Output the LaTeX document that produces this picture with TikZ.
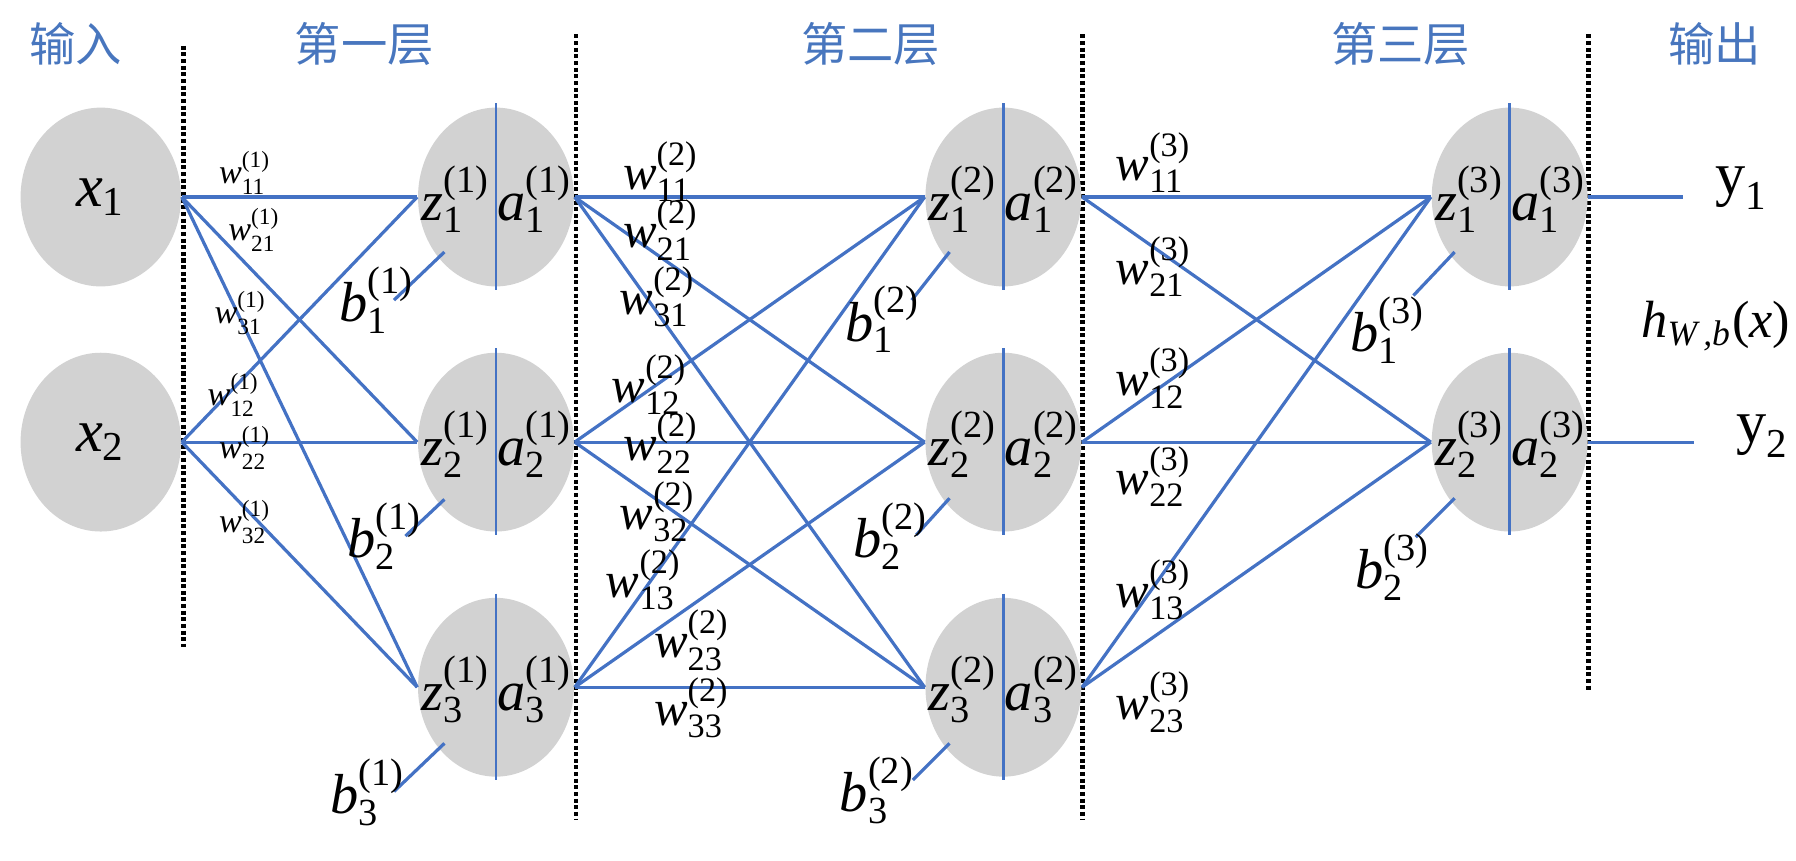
\documentclass[tikz,border=0pt]{standalone}
\usepackage{fontspec}
\setmainfont{Liberation Serif}
\newfontfamily\tnr{Liberation Serif}
\newfontfamily\cjk{Noto Sans CJK SC}
\usetikzlibrary{shapes.geometric,calc}
\definecolor{lineblue}{RGB}{68,114,196}
\definecolor{headblue}{RGB}{72,118,190}
\definecolor{cellgray}{RGB}{210,210,210}
\makeatletter
\newcommand\sss{\fontsize{\fpeval{0.68*\f@size}}{\fpeval{0.8*\f@size}}\selectfont}
\makeatother
\newcommand{\lbl}[3]{$\hbox{\tnr\itshape #1}^{\hbox{\tnr\sss(#3)}}_{\hbox{\tnr\sss #2}}$}
\begin{document}
\begin{tikzpicture}[x=0.01cm,y=-0.01cm,
 neuron/.style={ellipse, fill=cellgray, draw=none, minimum width=1.36cm, minimum height=1.56cm, inner sep=0pt},
 inputnode/.style={ellipse, fill=cellgray, draw=none, minimum width=1.40cm, minimum height=1.56cm, inner sep=0pt, font=\tnr\fontsize{15}{17}\selectfont},
 conn/.style={lineblue, line width=0.8pt},
 divider/.style={lineblue, line width=0.7pt},
 divline/.style={black, line width=1.15pt, dash pattern=on 1pt off 0.65pt},
 head/.style={headblue, font=\cjk\fontsize{11.5}{13}\selectfont, inner sep=0pt},
 nlab/.style={font=\tnr\fontsize{14}{16}\selectfont, inner sep=0pt},
 hlab/.style={font=\tnr\fontsize{13}{15}\selectfont, inner sep=0pt},
 wone/.style={font=\tnr\fontsize{8.5}{10}\selectfont, inner sep=0pt},
 wlab/.style={font=\tnr\fontsize{12.5}{14}\selectfont, inner sep=0pt},
 blab/.style={font=\tnr\fontsize{14}{16}\selectfont, inner sep=0pt},
 ylab/.style={font=\tnr\fontsize{15}{17}\selectfont, inner sep=0pt},
]
\useasboundingbox (0,0) rectangle (1568,751);

% headers
\node[head] (hin) at (66,38) {输入};
\node[head] (hl1) at (318,38) {第一层};
\node[head] (hl2) at (760,38) {第二层};
\node[head] (hl3) at (1223,38) {第三层};
\node[head] (hout) at (1497,38) {输出};

% dashed separators
\coordinate (d1t) at (160,40);  \coordinate (d1b) at (160,565);
\coordinate (d2t) at (503,30);  \coordinate (d2b) at (503,715);
\coordinate (d3t) at (945,30);  \coordinate (d3b) at (945,715);
\coordinate (d4t) at (1387,30); \coordinate (d4b) at (1387,602);
\draw[divline] (d1t) -- (d1b);
\draw[divline] (d2t) -- (d2b);
\draw[divline] (d3t) -- (d3b);
\draw[divline] (d4t) -- (d4b);

% inputs
\node[inputnode] (x1) at (88,172) {$\hbox{\tnr\itshape x}_{\hbox{\tnr\sss 1}}$};
\node[inputnode] (x2) at (88,386) {$\hbox{\tnr\itshape x}_{\hbox{\tnr\sss 2}}$};

% neurons
\foreach \L/\cx in {1/433,2/876,3/1318}{
  \foreach \r/\cy in {1/172,2/386,3/600}{
    \ifnum\L=3 \ifnum\r=3 \else
      \node[neuron] (n\L\r) at (\cx,\cy) {};
    \fi\else
      \node[neuron] (n\L\r) at (\cx,\cy) {};
    \fi
  }
}
\foreach \L/\cx in {1/433,2/876,3/1318}{
  \foreach \r/\cy in {1/172,2/386,3/600}{
    \ifnum\L=3 \ifnum\r=3 \else
      \draw[divider] ([yshift=0.03cm]n\L\r.north) -- ([yshift=-0.02cm]n\L\r.south);
      \node[nlab] (z\L\r) at (\cx-35,\cy+2) {\lbl{z}{\r}{\L}};
      \node[nlab] (a\L\r) at (\cx+34,\cy+2) {\lbl{a}{\r}{\L}};
    \fi\else
      \draw[divider] ([yshift=0.03cm]n\L\r.north) -- ([yshift=-0.02cm]n\L\r.south);
      \node[nlab] (z\L\r) at (\cx-35,\cy+2) {\lbl{z}{\r}{\L}};
      \node[nlab] (a\L\r) at (\cx+34,\cy+2) {\lbl{a}{\r}{\L}};
    \fi
  }
}

% layer 1 connections
\foreach \i in {1,2}{\foreach \j in {1,2,3}{\draw[conn] (x\i.east) -- (n1\j.west);}}
% layer 2 connections
\foreach \i in {1,2,3}{\foreach \j in {1,2,3}{\draw[conn] (n1\i.east) -- (n2\j.west);}}
% layer 3 connections
\foreach \i in {1,2,3}{\foreach \j in {1,2}{\draw[conn] (n2\i.east) -- (n3\j.west);}}

% outputs
\coordinate (o1) at (1469,172);
\coordinate (o2) at (1479,386);
\draw[conn] (n31.east) -- (o1);
\draw[conn] (n32.east) -- (o2);
\node[ylab] (y1) at (1521,164) {$\hbox{\tnr y}_{\hbox{\tnr\sss 1}}$};
\node[ylab] (y2) at (1539,381) {$\hbox{\tnr y}_{\hbox{\tnr\sss 2}}$};
\node[hlab] (hx) at (1498,285) {$\hbox{\tnr\itshape h}_{\hbox{\tnr\sss\itshape W\,,b}}\hbox{\tnr(\itshape x\/\upshape)}$};

% biases
\coordinate (b11e) at (344,262); \draw[conn] (b11e) -- ($(n11.center)+(-45,48)$);
\coordinate (b12e) at (354,468); \draw[conn] (b12e) -- ($(n12.center)+(-45,50)$);
\coordinate (b13e) at (344,691); \draw[conn] (b13e) -- ($(n13.center)+(-45,49)$);
\coordinate (b21e) at (796,262); \draw[conn] (b21e) -- ($(n21.center)+(-47,48)$);
\coordinate (b22e) at (800,467); \draw[conn] (b22e) -- ($(n22.center)+(-47,49)$);
\coordinate (b23e) at (797,681); \draw[conn] (b23e) -- ($(n23.center)+(-47,49)$);
\coordinate (b31e) at (1234,258); \draw[conn] (b31e) -- ($(n31.center)+(-48,48)$);
\coordinate (b32e) at (1236,469); \draw[conn] (b32e) -- ($(n32.center)+(-48,49)$);
\node[blab] (lb11) at (329,262) {\lbl{b}{1}{1}};
\node[blab] (lb12) at (336,468) {\lbl{b}{2}{1}};
\node[blab] (lb13) at (321,692) {\lbl{b}{3}{1}};
\node[blab] (lb21) at (771,279) {\lbl{b}{1}{2}};
\node[blab] (lb22) at (778,468) {\lbl{b}{2}{2}};
\node[blab] (lb23) at (766,690) {\lbl{b}{3}{2}};
\node[blab] (lb31) at (1212,288) {\lbl{b}{1}{3}};
\node[blab] (lb32) at (1216,495) {\lbl{b}{2}{3}};

% weight labels layer 1
\node[wone] (w111) at (214,151) {\lbl{w}{11}{1}};
\node[wone] (w121) at (222,201) {\lbl{w}{21}{1}};
\node[wone] (w131) at (210,273) {\lbl{w}{31}{1}};
\node[wone] (w112) at (204,345) {\lbl{w}{12}{1}};
\node[wone] (w122) at (214,391) {\lbl{w}{22}{1}};
\node[wone] (w132) at (214,456) {\lbl{w}{32}{1}};
% weight labels layer 2
\node[wlab] (w211) at (577,150) {\lbl{w}{11}{2}};
\node[wlab] (w221) at (577,201) {\lbl{w}{21}{2}};
\node[wlab] (w231) at (574,259) {\lbl{w}{31}{2}};
\node[wlab] (w212) at (567,336) {\lbl{w}{12}{2}};
\node[wlab] (w222) at (577,387) {\lbl{w}{22}{2}};
\node[wlab] (w232) at (574,447) {\lbl{w}{32}{2}};
\node[wlab] (w213) at (562,506) {\lbl{w}{13}{2}};
\node[wlab] (w223) at (604,559) {\lbl{w}{23}{2}};
\node[wlab] (w233) at (604,618) {\lbl{w}{33}{2}};
% weight labels layer 3
\node[wlab] (w311) at (1007,142) {\lbl{w}{11}{3}};
\node[wlab] (w321) at (1007,233) {\lbl{w}{21}{3}};
\node[wlab] (w312) at (1007,330) {\lbl{w}{12}{3}};
\node[wlab] (w322) at (1007,416) {\lbl{w}{22}{3}};
\node[wlab] (w313) at (1007,515) {\lbl{w}{13}{3}};
\node[wlab] (w323) at (1007,613) {\lbl{w}{23}{3}};
\end{tikzpicture}
\end{document}
